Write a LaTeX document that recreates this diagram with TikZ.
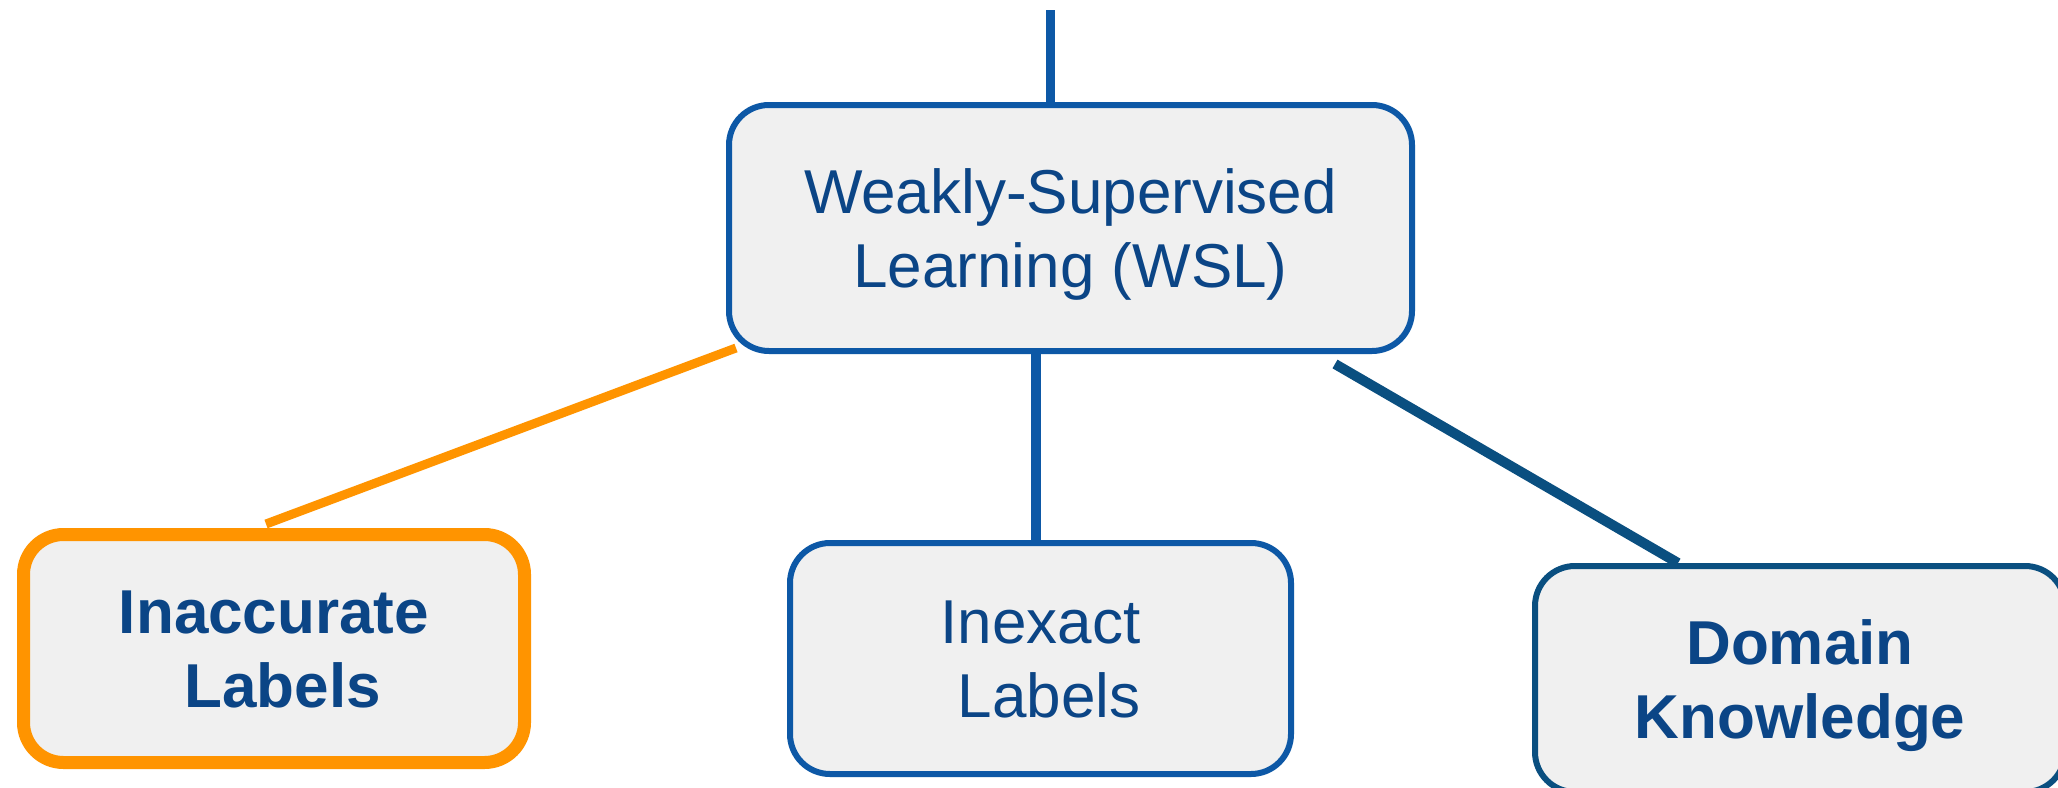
\documentclass[tikz,border=0pt]{standalone}
\usepackage{fontspec}
\setmainfont{Liberation Sans}
\usetikzlibrary{calc}

\definecolor{wslblue}{HTML}{0D58A6}
\definecolor{deepblue}{HTML}{0A4F80}
\definecolor{inkblue}{HTML}{0B4586}
\definecolor{accent}{HTML}{FF9400}
\definecolor{boxfill}{HTML}{F0F0F0}

% invisible rules that fix the height of the first line and the depth of the last one
\newcommand\topstrut{\rule{0pt}{64pt}}
\newcommand\botstrut{\rule[-20pt]{0pt}{20pt}}

\pgfdeclarelayer{bg}
\pgfsetlayers{bg,main}

\begin{document}
\begin{tikzpicture}[x=1pt,y=-1pt,
  card/.style={draw, fill=boxfill, rounded corners=40pt, align=center,
    inner sep=0pt, text=inkblue, font=\fontsize{62}{74}\selectfont},
  boldcard/.style={card, font=\fontsize{62}{74}\selectfont\bfseries},
  trunk/.style={draw=wslblue, line width=9pt},
  branch/.style={line width=10pt}
]
\useasboundingbox (0,0) rectangle (2058,787);

% boxes
\node[card, draw=wslblue, line width=6pt, minimum width=683pt, minimum height=246pt]
  (wsl) at (1070.5,228) {\topstrut Weakly-Supervised\\Learning (WSL)\botstrut};
\node[boldcard, draw=accent, line width=13pt, minimum width=501pt, minimum height=228pt]
  (inacc) at (274,648.5) {\topstrut Inaccurate\\\kern17pt Labels\botstrut};
\node[card, draw=wslblue, line width=6pt, minimum width=501pt, minimum height=231pt]
  (inex) at (1040.5,658.5) {\topstrut Inexact\\\kern17pt Labels\botstrut};
\node[boldcard, draw=deepblue, line width=6pt, minimum width=530pt, minimum height=226pt]
  (dom) at (1800,679) {\topstrut Domain\\Knowledge\botstrut};

% white page and connectors, kept behind the boxes
\begin{pgfonlayer}{bg}
  \fill[white] (0,0) rectangle (2058,787);
  \coordinate (feed) at (1050,10);
  \draw[trunk] (feed) -- (feed |- wsl.north);
  \draw[branch, draw=wslblue] ($(inex.north)+(-4.5,0)$) coordinate (drop) -- (drop |- wsl.south);
  \draw[branch, draw=accent, line width=9pt] ($(inacc.north)+(-8,-4)$) -- ($(wsl.south west)+(10,-6)$);
  \draw[branch, draw=deepblue] ($(wsl.south east)+(-80,10)$) -- ($(dom.north west)+(146,0)$);
\end{pgfonlayer}
\end{tikzpicture}
\end{document}
